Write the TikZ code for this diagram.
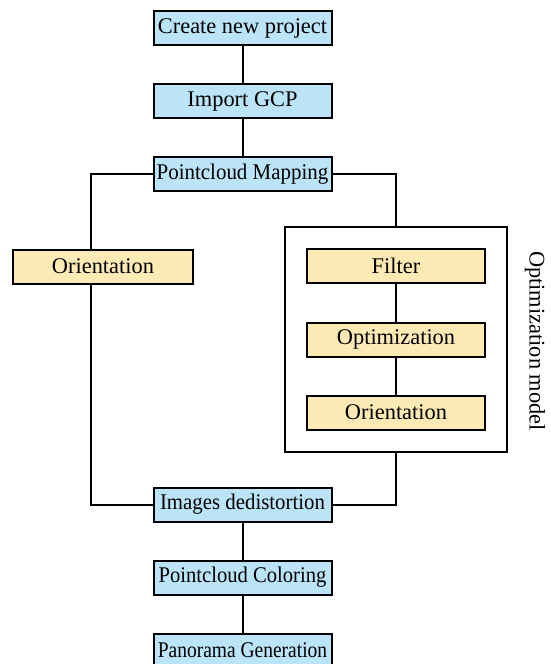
\documentclass[tikz,border=0pt]{standalone}
\usepackage{fontspec}
\usepackage{graphicx}
\setmainfont{Liberation Serif}
\usetikzlibrary{fit}
\definecolor{stepblue}{RGB}{187,228,248}
\definecolor{stepyellow}{RGB}{253,234,180}
\newcommand{\squeeze}[2]{\scalebox{#1}[1]{#2}}

\begin{document}
\begin{tikzpicture}[x=0.5pt,y=-0.5pt,
  box/.style={draw,line width=1pt,minimum width=89pt,minimum height=17pt,inner xsep=0pt,inner ysep=1pt,font=\fontsize{11.2}{13}\selectfont},
  bluebox/.style={box,fill=stepblue},
  yellowbox/.style={box,fill=stepyellow},
  link/.style={line width=1pt}]
\useasboundingbox (0,0) rectangle (551,664);

% Main steps
\node[bluebox] (create) at (242.5,28) {Create new project};
\node[bluebox] (gcp) at (242.5,101) {Import GCP};
\node[bluebox] (mapping) at (242.5,174) {\squeeze{0.935}{Pointcloud Mapping}};
\node[bluebox] (dedist) at (242.5,504.5) {\squeeze{0.93}{Images dedistortion}};
\node[bluebox] (coloring) at (242.5,577.5) {\squeeze{0.92}{Pointcloud Coloring}};
\node[bluebox] (panorama) at (242.5,650.5) {\squeeze{0.87}{Panorama Generation}};

% Left branch
\node[yellowbox,minimum width=90pt] (orileft) at (103,266.5) {Orientation};
\coordinate (leftx) at (91,0);

% Optimization model
\node[yellowbox] (filter) at (396,266) {Filter};
\node[yellowbox] (optim) at (396,339.5) {Optimization};
\node[yellowbox] (oriright) at (396,412.5) {Orientation};
\node[draw,line width=1pt,inner sep=10.5pt,fit=(filter) (oriright)] (model) {};
\node[rotate=-90,font=\fontsize{11.2}{13}\selectfont] (modellabel) at (535,341) {Optimization model};

% Links
\draw[link] (create) -- (gcp);
\draw[link] (gcp) -- (mapping);
\draw[link] (mapping.west) -| (leftx |- orileft.north);
\draw[link] (leftx |- orileft.south) |- (dedist.west);
\draw[link] (mapping.east) -| (model.north);
\draw[link] (model.south) |- (dedist.east);
\draw[link] (filter) -- (optim);
\draw[link] (optim) -- (oriright);
\draw[link] (dedist) -- (coloring);
\draw[link] (coloring) -- (panorama);
\end{tikzpicture}
\end{document}
